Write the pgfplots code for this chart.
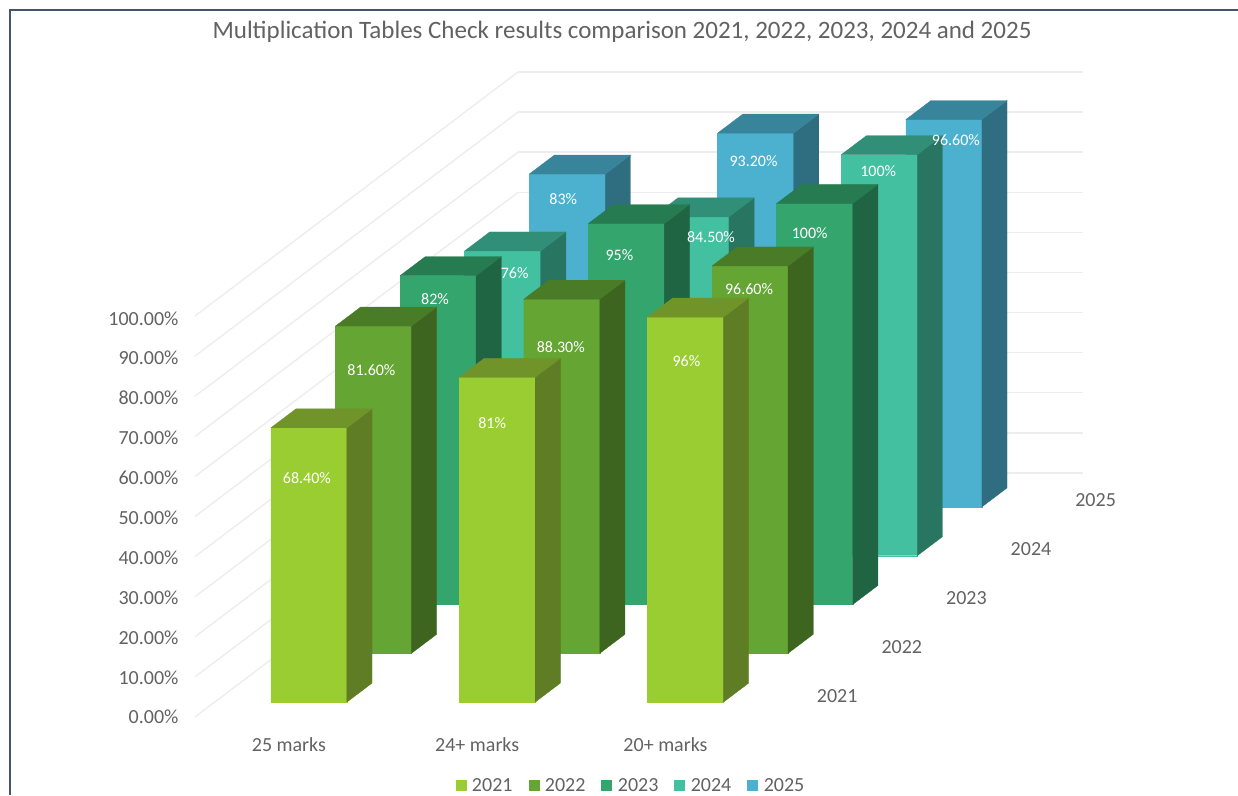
\documentclass[border=0pt]{standalone}
\usepackage{pgfplots}
\pgfplotsset{compat=1.18}
\usepackage{fontspec}
\setmainfont{Carlito}
\definecolor{txt}{HTML}{626262}
\definecolor{frame}{HTML}{44546A}
\definecolor{fa}{HTML}{9ACD32}\definecolor{sa}{HTML}{5F7D24}\definecolor{ta}{HTML}{71942A}
\definecolor{fb}{HTML}{64A533}\definecolor{sb}{HTML}{3D651F}\definecolor{tb}{HTML}{4A7B26}
\definecolor{fc}{HTML}{33A56D}\definecolor{sc}{HTML}{1F6543}\definecolor{tc}{HTML}{267B51}
\definecolor{fd}{HTML}{42C0A0}\definecolor{sd}{HTML}{287562}\definecolor{td}{HTML}{318E77}
\definecolor{fe}{HTML}{4BB1CF}\definecolor{se}{HTML}{2F6D80}\definecolor{te}{HTML}{38849B}
% #1 x0, #2 x1, #3 y0, #4 y1, #5 value, #6 colour stem
\newcommand{\barthreed}[6]{%
  \addplot3[forget plot,fill=f#6,draw=f#6,line width=.3pt] coordinates {(#1,#3,0)(#2,#3,0)(#2,#3,#5)(#1,#3,#5)(#1,#3,0)};
  \addplot3[forget plot,fill=s#6,draw=s#6,line width=.3pt] coordinates {(#2,#3,0)(#2,#4,0)(#2,#4,#5)(#2,#3,#5)(#2,#3,0)};
  \addplot3[forget plot,fill=t#6,draw=t#6,line width=.3pt] coordinates {(#1,#3,#5)(#2,#3,#5)(#2,#4,#5)(#1,#4,#5)(#1,#3,#5)};
}
% #1 x, #2 y, #3 value, #4 text, #5 xshift, #6 yshift
\newcommand{\lbl}[6]{\node[text=white,font=\fontsize{16}{16}\selectfont,inner sep=0pt] at (axis cs:#1,#2,#3) [xshift=#5pt,yshift=#6pt] {#4};}
\begin{document}
\begin{tikzpicture}[x=1pt,y=1pt]
\useasboundingbox (0,0) rectangle (1238,795);
\draw[color=frame,line width=1.6pt] (10,0) -- (10,785) -- (1238,785);
\node[text=txt,font=\fontsize{25}{25}\selectfont] at (622,763) {Multiplication Tables Check results comparison 2021, 2022, 2023, 2024 and 2025};
\begin{axis}[
  anchor=origin, at={(195pt,78pt)},
  x={(188.3pt,0pt)}, y={(64.6pt,48.8pt)}, z={(0pt,4.01pt)},
  xmin=0,xmax=3,ymin=0,ymax=5,zmin=0,zmax=100,
  axis line style={draw=none},
  major tick style={draw=none},
  zmajorgrids=true,
  major grid style={draw=black!7,line width=1.4pt},
  xtick={0.5,1.5,2.5},
  xticklabels={25 marks,24+ marks,20+ marks},
  ytick={0.5,1.5,2.5,3.5,4.5},
  yticklabels={2021,2022,2023,2024,2025},
  ztick={0,10,...,100},
  zticklabels={0.00\%,10.00\%,20.00\%,30.00\%,40.00\%,50.00\%,60.00\%,70.00\%,80.00\%,90.00\%,100.00\%},
  tick label style={text=txt,font=\fontsize{20}{20}\selectfont},
  x tick label style={xshift=5pt,yshift=-17pt},
  y tick label style={xshift=29pt,yshift=13pt},
  z tick label style={xshift=-13pt,yshift=10pt},
  clip=false,
  legend style={draw=none,fill=none,text=txt,font=\fontsize{20}{20}\selectfont,
    legend columns=5,at={(0.5,0)},anchor=north,xshift=-9pt,yshift=-61pt,
    nodes={inner xsep=0pt,inner ysep=0pt},inner sep=0pt,
    /tikz/every odd column/.append style={column sep=6pt},
    /tikz/every even column/.append style={column sep=16pt}},
  legend image code/.code={\fill[#1] (0pt,-5pt) rectangle (10pt,5pt);},
]
\addlegendimage{fa}\addlegendentry{2021}
\addlegendimage{fb}\addlegendentry{2022}
\addlegendimage{fc}\addlegendentry{2023}
\addlegendimage{fd}\addlegendentry{2024}
\addlegendimage{fe}\addlegendentry{2025}
% 2025
\barthreed{0.298}{0.702}{4.305}{4.695}{83}{e}
\barthreed{1.298}{1.702}{4.305}{4.695}{93.2}{e}
\barthreed{2.298}{2.702}{4.305}{4.695}{96.6}{e}
% 2024
\barthreed{0.298}{0.702}{3.305}{3.695}{76}{d}
\barthreed{1.298}{1.702}{3.305}{3.695}{84.5}{d}
\barthreed{2.298}{2.702}{3.305}{3.695}{100}{d}
% 2023
\barthreed{0.298}{0.702}{2.305}{2.695}{82}{c}
\barthreed{1.298}{1.702}{2.305}{2.695}{95}{c}
\barthreed{2.298}{2.702}{2.305}{2.695}{100}{c}
% 2022
\barthreed{0.298}{0.702}{1.305}{1.695}{81.6}{b}
\barthreed{1.298}{1.702}{1.305}{1.695}{88.3}{b}
\barthreed{2.298}{2.702}{1.305}{1.695}{96.6}{b}
% 2021
\barthreed{0.298}{0.702}{0.305}{0.695}{68.4}{a}
\barthreed{1.298}{1.702}{0.305}{0.695}{81}{a}
\barthreed{2.298}{2.702}{0.305}{0.695}{96}{a}
% data labels
\lbl{0.5}{4.305}{83}{83\%}{-4}{-25}
\lbl{1.5}{4.305}{93.2}{93.20\%}{-2}{-28}
\lbl{2.5}{4.305}{96.6}{96.60\%}{12}{-21}
\lbl{0.5}{3.305}{76}{76\%}{12}{-22}
\lbl{1.5}{3.305}{84.5}{84.50\%}{20}{-20}
\lbl{2.5}{3.305}{100}{100\%}{-1}{-16}
\lbl{0.5}{2.305}{82}{82\%}{-3}{-23}
\lbl{1.5}{2.305}{95}{95\%}{-7}{-32}
\lbl{2.5}{2.305}{100}{100\%}{-5}{-30}
\lbl{0.5}{1.305}{81.6}{81.60\%}{-2}{-44}
\lbl{1.5}{1.305}{88.3}{88.30\%}{-1}{-48}
\lbl{2.5}{1.305}{96.6}{96.60\%}{-1}{-23}
\lbl{0.5}{0.305}{68.4}{68.40\%}{-2}{-50}
\lbl{1.5}{0.305}{81}{81\%}{-5}{-46}
\lbl{2.5}{0.305}{96}{96\%}{1}{-44}
\end{axis}
\end{tikzpicture}
\end{document}
